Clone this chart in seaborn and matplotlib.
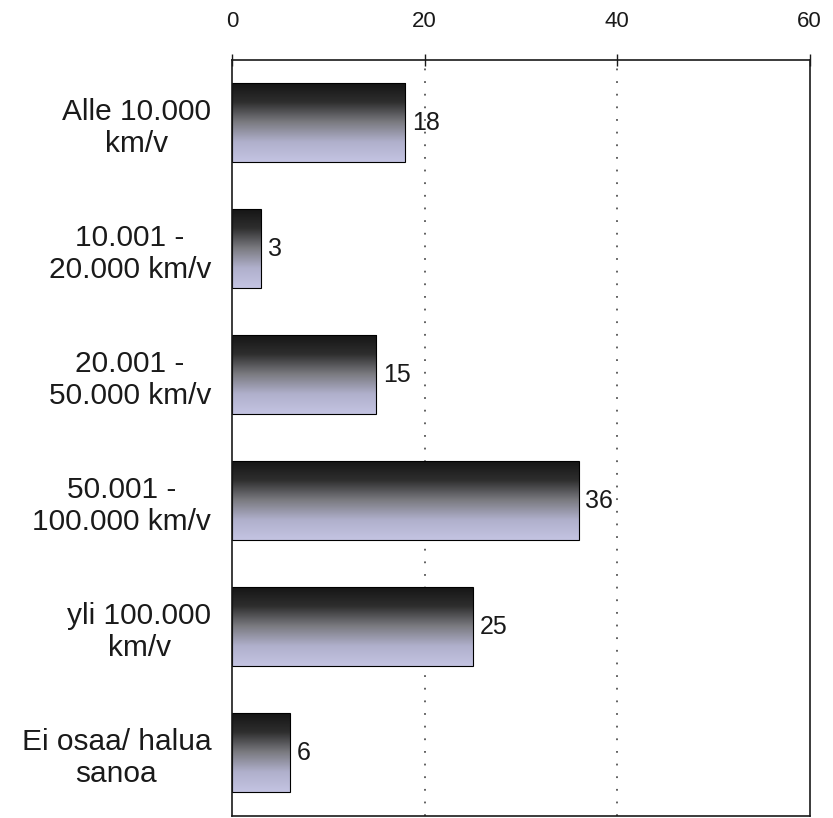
import numpy as np
import pandas as pd
import seaborn as sns
import matplotlib.pyplot as plt
from matplotlib.colors import LinearSegmentedColormap

categories = ["Alle 10.000\nkm/v", "10.001 -\n20.000 km/v", "20.001 -\n50.000 km/v",
              "50.001 -\n100.000 km/v", "yli 100.000\nkm/v", "Ei osaa/ halua\nsanoa"]
values = [18, 3, 15, 36, 25, 6]
xticks = [0, 20, 40, 60]

df = pd.DataFrame({"Luokka": categories, "Osuus": values})

sns.set_style("white")
plt.rcParams['font.family'] = ['Liberation Sans', 'DejaVu Sans']

fig = plt.figure(figsize=(8.33, 8.18), dpi=100)
ax = fig.add_axes([0.2785, 0.003, 0.6935, 0.924])

sns.barplot(data=df, x="Osuus", y="Luokka", orient="h", width=0.63,
            color="#888888", edgecolor="black", linewidth=0.8, ax=ax)

# gradient fill: dark at top, lavender at bottom
grad_cmap = LinearSegmentedColormap.from_list(
    "grad", ["#141414", "#2e2e2e", "#7a7a80", "#b0b0cc", "#c4c4e2"])
grad = np.linspace(0, 1, 256).reshape(-1, 1)
for p in list(ax.patches):
    x0, y0 = p.get_x(), p.get_y()
    w, h = p.get_width(), p.get_height()
    im = ax.imshow(grad, cmap=grad_cmap, aspect="auto", origin="lower",
                   extent=[x0, x0 + w, y0, y0 + h], zorder=p.get_zorder() + 0.1)
    im.set_clip_path(p)
    p.set_facecolor("none")
    p.set_zorder(p.get_zorder() + 0.2)

for i, v in enumerate(values):
    ax.text(v + 0.7, i, str(v), va="center", ha="left", fontsize=18, color="#1a1a1a")

ax.set_xlim(0, 60)
ax.set_ylim(len(categories) - 0.5, -0.5)
ax.xaxis.tick_top()
ax.set_xticks(xticks)
ax.set_xticklabels([str(t) for t in xticks], fontsize=16)
ax.tick_params(axis="x", direction="inout", length=8, width=1, pad=16, colors="#1a1a1a")
ax.set_yticks(range(len(categories)))
ax.set_yticklabels(categories, fontsize=21.5, multialignment="center")
ax.tick_params(axis="y", length=0, pad=15, colors="#1a1a1a")
ax.set_yticks(np.arange(0.5, len(categories) - 0.5), minor=True)
ax.tick_params(axis="y", which="minor", length=7, width=1, direction="out")
ax.set_xlabel("")
ax.set_ylabel("")

for x in [20, 40]:
    ax.axvline(x, color="#555555", linestyle=(0, (1, 6)), linewidth=1.3, zorder=0)

for s in ax.spines.values():
    s.set_visible(True)
    s.set_color("#1a1a1a")
    s.set_linewidth(1.2)

fig.savefig("out.png", dpi=100)
